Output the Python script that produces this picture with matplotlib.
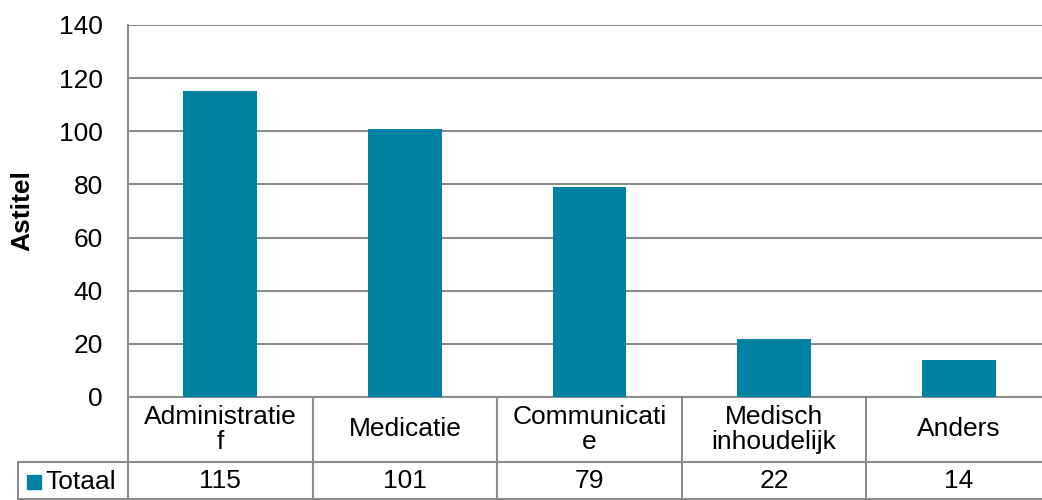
import matplotlib
matplotlib.use("Agg")
import matplotlib.pyplot as plt
from matplotlib.transforms import blended_transform_factory

categories = ["Administratie\nf", "Medicatie", "Communicati\ne", "Medisch\ninhoudelijk", "Anders"]
values = [115, 101, 79, 22, 14]
series_name = "Totaal"
yticks = [0, 20, 40, 60, 80, 100, 120, 140]

plt.rcParams['font.family'] = ['Liberation Sans', 'DejaVu Sans']
W, H = 1042, 500
fs = 19
fig = plt.figure(figsize=(W/100, H/100), dpi=100)
left_px, right_px, top_px, bot_px = 128, 1051, 25, 397
ax = fig.add_axes([left_px/W, (H-bot_px)/H, (right_px-left_px)/W, (bot_px-top_px)/H])

bar_color = "#0083A3"
grid_color = "#8C8C8C"
x = list(range(len(categories)))
ax.bar(x, values, width=0.4, color=bar_color, zorder=3)
ax.set_xlim(-0.5, len(categories) - 0.5)
ax.set_ylim(0, 140)
ax.set_yticks(yticks)
ax.set_yticklabels([str(t) for t in yticks], fontsize=fs)
ax.tick_params(axis='y', length=0, pad=18)
ax.set_xticks([])
ax.yaxis.grid(True, color=grid_color, linewidth=1.5, zorder=0)
for s in ['top', 'right', 'bottom']:
    ax.spines[s].set_visible(False)
ax.spines['left'].set_color(grid_color)
ax.spines['left'].set_linewidth(1.5)
ax.set_ylabel("Astitel", fontsize=fs, fontweight='bold')
ax.yaxis.set_label_coords(-(128-22)/(right_px-left_px), 0.5)
ax.yaxis.label.set_va('center')

# data table
ph = bot_px - top_px
def fy(px):
    return -(px - bot_px) / ph
tr = blended_transform_factory(ax.transData, ax.transAxes)
row1_bot = fy(462)
row2_bot = fy(499)
lkw = dict(color=grid_color, linewidth=1.5, clip_on=False, transform=tr)
ax.plot([-0.5, len(categories) - 0.5], [0, 0], **lkw)
ax.plot([-0.5, len(categories) - 0.5], [row1_bot, row1_bot], **lkw)
ax.plot([-0.5, len(categories) - 0.5], [row2_bot, row2_bot], **lkw)
for i in range(len(categories) + 1):
    ax.plot([i - 0.5, i - 0.5], [0, row2_bot], **lkw)
xl = ax.transData.inverted().transform((ax.transData.transform((-0.5, 0))[0] - 110, 0))[0]
ax.plot([xl, -0.5], [row1_bot, row1_bot], **lkw)
ax.plot([xl, xl], [row1_bot, row2_bot], **lkw)
ax.plot([xl, -0.5], [row2_bot, row2_bot], **lkw)

for i, (c, v) in enumerate(zip(categories, values)):
    ax.text(i, (0 + row1_bot) / 2, c, ha='center', va='center', fontsize=fs,
            transform=tr, linespacing=1.1)
    ax.text(i, (row1_bot + row2_bot) / 2, str(v), ha='center', va='center', fontsize=fs,
            transform=tr)

trf = fig.transFigure
ymid = (H - 482) / H
fig.patches.append(plt.Rectangle((27/W, ymid - 7/H), 14/W, 14/H, color=bar_color, transform=trf))
fig.text(45/W, ymid, series_name, ha='left', va='center', fontsize=fs)

fig.savefig("out.png", dpi=100)
